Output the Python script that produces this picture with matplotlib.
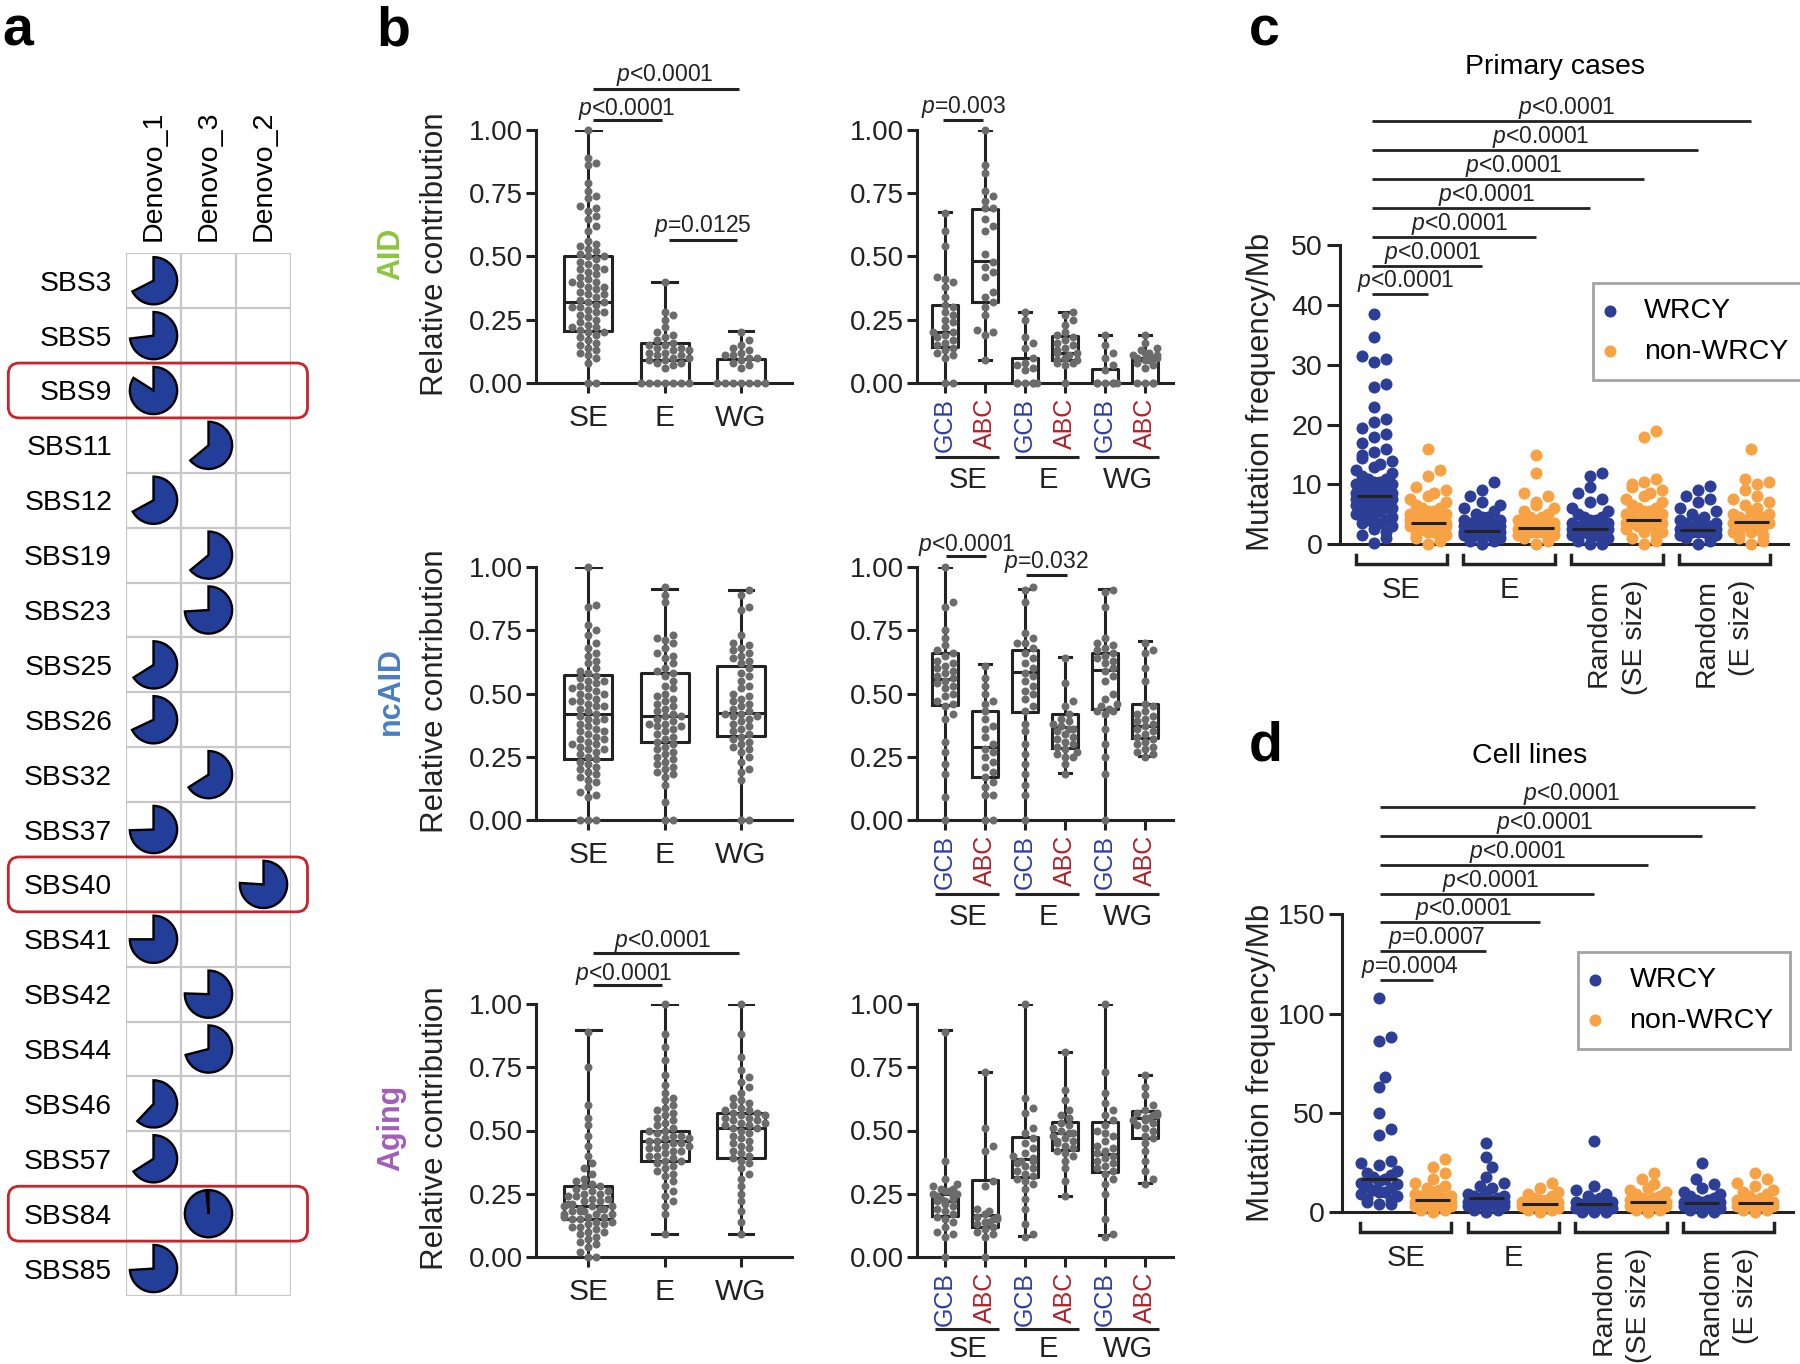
import numpy as np
import matplotlib
matplotlib.use("Agg")
import matplotlib.pyplot as plt
from matplotlib.patches import Wedge, FancyBboxPatch

plt.rcParams["font.family"] = "Liberation Sans"
plt.rcParams["mathtext.fontset"] = "custom"
plt.rcParams["mathtext.it"] = "Liberation Sans:italic"
plt.rcParams["mathtext.rm"] = "Liberation Sans"

# ---------------- panel a data
sigs = ["SBS3", "SBS5", "SBS9", "SBS11", "SBS12", "SBS19", "SBS23", "SBS25", "SBS26", "SBS32",
        "SBS37", "SBS40", "SBS41", "SBS42", "SBS44", "SBS46", "SBS57", "SBS84", "SBS85"]
denovo = ["Denovo_1", "Denovo_3", "Denovo_2"]
sig_col = [0, 0, 0, 1, 0, 1, 1, 0, 0, 1, 0, 2, 0, 1, 1, 0, 0, 1, 0]
sig_frac = [0.675, 0.73, 0.84, 0.64, 0.67, 0.64, 0.74, 0.66, 0.68, 0.66,
            0.745, 0.76, 0.75, 0.755, 0.71, 0.62, 0.66, 0.985, 0.74]
highlight = ["SBS9", "SBS40", "SBS84"]

# ---------------- panel b data (relative contribution)
regions = ["SE", "E", "WG"]
subtypes = ["GCB", "ABC"]

aid_se = [1.0, 0.89, 0.87, 0.86, 0.79, 0.76, 0.74, 0.73, 0.70, 0.69, 0.68, 0.66, 0.65, 0.62, 0.60,
          0.56, 0.55, 0.54, 0.53, 0.52, 0.51, 0.50, 0.50, 0.49, 0.48, 0.47, 0.46, 0.45, 0.45, 0.44,
          0.43, 0.42, 0.41, 0.40, 0.40, 0.39, 0.38, 0.38, 0.37, 0.36, 0.35, 0.35, 0.34, 0.33, 0.32,
          0.32, 0.31, 0.30, 0.30, 0.29, 0.28, 0.28, 0.27, 0.26, 0.25, 0.24, 0.23, 0.22, 0.22, 0.21,
          0.20, 0.20, 0.19, 0.18, 0.17, 0.16, 0.15, 0.14, 0.13, 0.12, 0.11, 0.10, 0.08, 0.0, 0.0]
aid_e = [0.40, 0.28, 0.27, 0.25, 0.22, 0.20, 0.19, 0.18, 0.17, 0.16, 0.15, 0.15, 0.14, 0.14, 0.13,
         0.13, 0.12, 0.12, 0.11, 0.11, 0.10, 0.10, 0.09, 0.09, 0.08, 0.08, 0.07, 0.06,
         0.0, 0.0, 0.0, 0.0, 0.0, 0.0, 0.0]
aid_wg = [0.20, 0.17, 0.15, 0.14, 0.13, 0.12, 0.11, 0.11, 0.10, 0.10, 0.09, 0.08, 0.07, 0.06,
          0.0, 0.0, 0.0, 0.0, 0.0, 0.0, 0.0]
aid_box = [(0.0, 0.204, 0.32, 0.503, 1.0), (0.0, 0.0, 0.089, 0.16, 0.40), (0.0, 0.0, 0.0, 0.096, 0.204)]

aid_gcb_se = [0.67, 0.60, 0.54, 0.42, 0.41, 0.40, 0.38, 0.34, 0.31, 0.30, 0.28, 0.27, 0.25, 0.24,
              0.22, 0.20, 0.20, 0.19, 0.18, 0.17, 0.16, 0.15, 0.14, 0.13, 0.12, 0.11, 0.10, 0.0, 0.0]
aid_abc_se = [1.0, 0.86, 0.83, 0.76, 0.74, 0.72, 0.69, 0.69, 0.65, 0.62, 0.60, 0.51, 0.48, 0.46,
              0.44, 0.42, 0.36, 0.34, 0.32, 0.30, 0.27, 0.21, 0.20, 0.19, 0.09]
aid_gcb_e = [0.28, 0.25, 0.18, 0.16, 0.14, 0.10, 0.08, 0.07, 0.06, 0.05, 0.0, 0.0, 0.0, 0.0, 0.0, 0.0]
aid_abc_e = [0.28, 0.27, 0.25, 0.23, 0.20, 0.19, 0.18, 0.17, 0.16, 0.15, 0.14, 0.13, 0.12, 0.12,
             0.11, 0.10, 0.10, 0.09, 0.09, 0.08, 0.08, 0.07, 0.0]
aid_gcb_wg = [0.19, 0.15, 0.12, 0.10, 0.07, 0.05, 0.0, 0.0, 0.0, 0.0, 0.0, 0.0]
aid_abc_wg = [0.19, 0.16, 0.14, 0.13, 0.12, 0.12, 0.11, 0.11, 0.10, 0.10, 0.10, 0.09, 0.09, 0.08,
              0.07, 0.06, 0.0, 0.0, 0.0, 0.0]
aid_sub_box = [(0.0, 0.142, 0.20, 0.307, 0.674), (0.092, 0.32, 0.484, 0.688, 1.0),
               (0.0, 0.0, 0.0, 0.099, 0.28), (0.0, 0.092, 0.118, 0.184, 0.28),
               (0.0, 0.0, 0.0, 0.055, 0.19), (0.0, 0.0, 0.09, 0.10, 0.19)]

ncaid_se = [1.0, 0.85, 0.84, 0.77, 0.75, 0.73, 0.70, 0.68, 0.66, 0.65, 0.63, 0.62, 0.60, 0.59, 0.58,
            0.57, 0.56, 0.55, 0.55, 0.54, 0.53, 0.52, 0.52, 0.51, 0.50, 0.50, 0.49, 0.48, 0.47, 0.47,
            0.46, 0.45, 0.45, 0.44, 0.43, 0.42, 0.41, 0.40, 0.40, 0.39, 0.38, 0.37, 0.36, 0.35, 0.35,
            0.34, 0.33, 0.32, 0.32, 0.31, 0.30, 0.30, 0.29, 0.28, 0.28, 0.27, 0.26, 0.25, 0.24, 0.23,
            0.22, 0.21, 0.20, 0.19, 0.18, 0.17, 0.16, 0.15, 0.13, 0.11, 0.10, 0.09, 0.0, 0.0, 0.0]
ncaid_e = [0.92, 0.89, 0.86, 0.73, 0.72, 0.71, 0.70, 0.68, 0.66, 0.65, 0.64, 0.62, 0.60, 0.59, 0.58,
           0.57, 0.55, 0.53, 0.52, 0.50, 0.49, 0.48, 0.47, 0.46, 0.45, 0.44, 0.43, 0.42, 0.41, 0.41,
           0.40, 0.39, 0.38, 0.38, 0.37, 0.37, 0.36, 0.35, 0.34, 0.33, 0.32, 0.31, 0.30, 0.29, 0.28,
           0.27, 0.26, 0.25, 0.24, 0.23, 0.22, 0.21, 0.20, 0.19, 0.18, 0.17, 0.14, 0.07, 0.0, 0.0]
ncaid_wg = [0.91, 0.89, 0.84, 0.83, 0.73, 0.70, 0.69, 0.68, 0.67, 0.66, 0.65, 0.64, 0.63, 0.62, 0.60,
            0.58, 0.57, 0.55, 0.53, 0.52, 0.50, 0.49, 0.48, 0.47, 0.46, 0.45, 0.44, 0.43, 0.42, 0.42,
            0.41, 0.41, 0.40, 0.39, 0.38, 0.37, 0.36, 0.35, 0.34, 0.33, 0.32, 0.31, 0.30, 0.29, 0.28,
            0.27, 0.25, 0.23, 0.20, 0.19, 0.16, 0.0, 0.0]
ncaid_box = [(0.0, 0.242, 0.417, 0.575, 1.0), (0.0, 0.308, 0.413, 0.582, 0.914), (0.0, 0.332, 0.424, 0.61, 0.91)]

ncaid_gcb_se = [1.0, 0.86, 0.84, 0.75, 0.72, 0.69, 0.67, 0.66, 0.65, 0.63, 0.62, 0.61, 0.60, 0.59,
                0.58, 0.57, 0.56, 0.55, 0.54, 0.53, 0.52, 0.50, 0.49, 0.47, 0.46, 0.45, 0.42, 0.40,
                0.31, 0.27, 0.22, 0.18, 0.09, 0.0]
ncaid_abc_se = [0.61, 0.56, 0.53, 0.50, 0.47, 0.46, 0.43, 0.40, 0.37, 0.36, 0.33, 0.30, 0.28, 0.27,
                0.25, 0.23, 0.21, 0.19, 0.17, 0.15, 0.13, 0.10, 0.10, 0.0, 0.0]
ncaid_gcb_e = [0.92, 0.91, 0.86, 0.74, 0.72, 0.70, 0.70, 0.68, 0.66, 0.64, 0.62, 0.60, 0.58, 0.57,
               0.55, 0.53, 0.51, 0.50, 0.48, 0.45, 0.43, 0.38, 0.35, 0.30, 0.26, 0.22, 0.18, 0.14, 0.10, 0.0]
ncaid_abc_e = [0.64, 0.54, 0.47, 0.45, 0.42, 0.40, 0.39, 0.38, 0.37, 0.36, 0.36, 0.35, 0.34, 0.33,
               0.32, 0.31, 0.30, 0.29, 0.28, 0.27, 0.26, 0.25, 0.25, 0.22, 0.18]
ncaid_gcb_wg = [0.91, 0.90, 0.84, 0.72, 0.70, 0.69, 0.68, 0.67, 0.66, 0.65, 0.64, 0.63, 0.62, 0.60,
                0.59, 0.57, 0.55, 0.50, 0.48, 0.46, 0.45, 0.44, 0.43, 0.43, 0.42, 0.36, 0.30, 0.25, 0.18, 0.0]
ncaid_abc_wg = [0.70, 0.67, 0.66, 0.60, 0.55, 0.46, 0.45, 0.43, 0.42, 0.41, 0.40, 0.39, 0.38, 0.37,
                0.36, 0.35, 0.34, 0.33, 0.32, 0.31, 0.30, 0.29, 0.28, 0.27, 0.26, 0.25]
ncaid_sub_box = [(0.0, 0.454, 0.559, 0.66, 1.0), (0.0, 0.168, 0.287, 0.432, 0.616),
                 (0.0, 0.425, 0.586, 0.672, 0.914), (0.186, 0.283, 0.366, 0.418, 0.646),
                 (0.0, 0.438, 0.593, 0.662, 0.914), (0.254, 0.326, 0.372, 0.458, 0.708)]

aging_se = [0.89, 0.75, 0.60, 0.55, 0.52, 0.48, 0.44, 0.40, 0.37, 0.35, 0.33, 0.31, 0.30, 0.29, 0.28,
            0.28, 0.27, 0.26, 0.26, 0.25, 0.25, 0.24, 0.24, 0.23, 0.23, 0.22, 0.22, 0.21, 0.21, 0.20,
            0.20, 0.20, 0.19, 0.19, 0.19, 0.18, 0.18, 0.18, 0.17, 0.17, 0.17, 0.16, 0.16, 0.16, 0.15,
            0.15, 0.14, 0.14, 0.13, 0.13, 0.12, 0.12, 0.11, 0.10, 0.10, 0.09, 0.08, 0.07, 0.06, 0.05,
            0.04, 0.02, 0.0, 0.0]
aging_e = [1.0, 0.88, 0.83, 0.78, 0.72, 0.68, 0.65, 0.63, 0.62, 0.60, 0.59, 0.58, 0.57, 0.56, 0.55,
           0.54, 0.53, 0.52, 0.51, 0.50, 0.50, 0.49, 0.48, 0.48, 0.47, 0.47, 0.46, 0.46, 0.45, 0.45,
           0.44, 0.44, 0.43, 0.43, 0.42, 0.42, 0.41, 0.40, 0.40, 0.39, 0.38, 0.38, 0.37, 0.36, 0.35,
           0.34, 0.33, 0.32, 0.30, 0.28, 0.26, 0.24, 0.22, 0.20, 0.17, 0.09]
aging_wg = [1.0, 0.88, 0.79, 0.74, 0.71, 0.69, 0.67, 0.65, 0.63, 0.62, 0.61, 0.60, 0.59, 0.58, 0.58,
            0.57, 0.57, 0.56, 0.56, 0.55, 0.55, 0.54, 0.54, 0.53, 0.53, 0.52, 0.52, 0.51, 0.51, 0.50,
            0.49, 0.48, 0.47, 0.46, 0.45, 0.44, 0.43, 0.42, 0.41, 0.40, 0.39, 0.38, 0.37, 0.35, 0.33,
            0.31, 0.28, 0.25, 0.22, 0.18, 0.14, 0.09]
aging_box = [(0.0, 0.15, 0.20, 0.28, 0.896), (0.09, 0.38, 0.46, 0.50, 1.0), (0.09, 0.39, 0.51, 0.57, 1.0)]

aging_gcb_se = [0.89, 0.38, 0.31, 0.29, 0.28, 0.27, 0.27, 0.26, 0.26, 0.25, 0.25, 0.24, 0.24, 0.23,
                0.23, 0.22, 0.22, 0.21, 0.20, 0.19, 0.18, 0.17, 0.16, 0.15, 0.14, 0.12, 0.10, 0.09, 0.08, 0.0]
aging_abc_se = [0.73, 0.51, 0.44, 0.42, 0.30, 0.28, 0.19, 0.18, 0.17, 0.17, 0.16, 0.16, 0.15, 0.15,
                0.14, 0.14, 0.13, 0.12, 0.11, 0.10, 0.09, 0.08, 0.0]
aging_gcb_e = [1.0, 0.63, 0.59, 0.57, 0.51, 0.49, 0.47, 0.45, 0.43, 0.41, 0.40, 0.39, 0.38, 0.38,
               0.37, 0.36, 0.35, 0.34, 0.33, 0.32, 0.31, 0.30, 0.29, 0.27, 0.23, 0.19, 0.13, 0.09, 0.08]
aging_abc_e = [0.81, 0.66, 0.62, 0.58, 0.56, 0.55, 0.53, 0.52, 0.51, 0.50, 0.49, 0.49, 0.48, 0.47,
               0.46, 0.46, 0.45, 0.44, 0.43, 0.42, 0.41, 0.40, 0.38, 0.35, 0.30, 0.24]
aging_gcb_wg = [1.0, 0.73, 0.65, 0.61, 0.58, 0.56, 0.54, 0.52, 0.50, 0.49, 0.48, 0.46, 0.44, 0.43,
                0.42, 0.41, 0.40, 0.39, 0.38, 0.37, 0.36, 0.35, 0.34, 0.33, 0.31, 0.29, 0.25, 0.15, 0.09, 0.08]
aging_abc_wg = [0.72, 0.67, 0.64, 0.60, 0.58, 0.57, 0.57, 0.56, 0.56, 0.55, 0.55, 0.54, 0.54, 0.53,
                0.52, 0.51, 0.50, 0.48, 0.47, 0.45, 0.42, 0.38, 0.34, 0.31, 0.29]
aging_sub_box = [(0.0, 0.163, 0.22, 0.25, 0.897), (0.0, 0.118, 0.167, 0.303, 0.73),
                 (0.084, 0.316, 0.387, 0.476, 1.0), (0.24, 0.424, 0.49, 0.532, 0.812),
                 (0.088, 0.334, 0.408, 0.534, 1.0), (0.292, 0.47, 0.55, 0.579, 0.72)]

# ---------------- panel c / d data (mutation frequency / Mb)
c_se_w = [38.5, 34.7, 31.5, 31.0, 30.5, 26.8, 26.3, 23.0, 21.0, 20.5, 19.5, 18.5, 18.0, 17.0, 16.0,
          15.5, 15.0, 14.5, 14.0, 13.5, 13.0, 12.5, 12.0, 11.5, 11.0, 11.0, 10.5, 10.5, 10.0, 10.0,
          9.5, 9.5, 9.0, 9.0, 9.0, 8.5, 8.5, 8.5, 8.0, 8.0, 8.0, 7.5, 7.5, 7.5, 7.0, 7.0, 7.0, 6.5,
          6.5, 6.5, 6.0, 6.0, 6.0, 5.5, 5.5, 5.0, 5.0, 4.5, 4.5, 4.0, 4.0, 3.5, 3.5, 3.5, 3.0, 2.5,
          2.0, 1.5, 1.0, 0.3]
c_se_n = [16.0, 12.5, 11.5, 9.5, 9.0, 8.5, 8.0, 7.5, 7.0, 6.5, 6.0, 6.0, 5.5, 5.5, 5.0, 5.0, 4.5,
          4.5, 4.5, 4.0, 4.0, 4.0, 3.5, 3.5, 3.5, 3.5, 3.0, 3.0, 3.0, 3.0, 2.5, 2.5, 2.5, 2.0, 2.0,
          2.0, 1.5, 1.5, 1.0, 1.0, 0.5, 0.0]
c_e_w = [10.5, 9.0, 8.0, 7.0, 6.5, 6.0, 5.5, 5.0, 4.5, 4.5, 4.0, 4.0, 3.5, 3.5, 3.5, 3.0, 3.0, 3.0,
         3.0, 2.5, 2.5, 2.5, 2.5, 2.0, 2.0, 2.0, 2.0, 2.0, 1.5, 1.5, 1.5, 1.5, 1.0, 1.0, 1.0, 0.5, 0.5, 0.0]
c_e_n = [15.0, 12.0, 8.5, 8.0, 7.0, 6.5, 6.0, 5.5, 5.0, 4.5, 4.5, 4.0, 4.0, 3.5, 3.5, 3.5, 3.0, 3.0,
         3.0, 2.5, 2.5, 2.5, 2.5, 2.0, 2.0, 2.0, 1.5, 1.5, 1.5, 1.0, 1.0, 0.5, 0.0]
c_rse_w = [12.0, 11.5, 9.5, 8.5, 7.5, 7.0, 6.0, 5.5, 5.0, 4.5, 4.5, 4.0, 4.0, 3.5, 3.5, 3.0, 3.0,
           3.0, 2.5, 2.5, 2.5, 2.5, 2.0, 2.0, 2.0, 1.5, 1.5, 1.5, 1.0, 1.0, 0.5, 0.5, 0.0, 0.0]
c_rse_n = [19.0, 18.0, 11.0, 10.5, 10.0, 9.5, 9.0, 8.5, 8.0, 7.5, 7.0, 6.5, 6.0, 6.0, 5.5, 5.5, 5.0,
           5.0, 4.5, 4.5, 4.0, 4.0, 4.0, 3.5, 3.5, 3.5, 3.0, 3.0, 3.0, 2.5, 2.5, 2.0, 2.0, 1.5, 1.0, 0.5, 0.0]
c_re_w = [9.8, 9.0, 8.0, 7.5, 7.0, 6.0, 5.5, 5.0, 4.5, 4.0, 4.0, 3.5, 3.5, 3.0, 3.0, 3.0, 2.5, 2.5,
          2.5, 2.5, 2.0, 2.0, 2.0, 2.0, 1.5, 1.5, 1.5, 1.0, 1.0, 0.5, 0.0]
c_re_n = [16.0, 11.0, 10.5, 10.0, 9.0, 8.0, 7.5, 7.0, 6.5, 6.0, 5.5, 5.0, 5.0, 4.5, 4.5, 4.0, 4.0,
          3.5, 3.5, 3.5, 3.0, 3.0, 3.0, 2.5, 2.5, 2.0, 2.0, 1.5, 1.5, 1.0, 0.5, 0.0]
c_medians = [8.0, 3.5, 2.3, 2.8, 2.5, 4.0, 2.4, 3.7]
c_pvals = ["$p$<0.0001"] * 7

d_se_w = [108, 88, 86, 68, 63, 50, 42, 39, 26, 25, 24, 21, 20, 19, 18, 17, 16, 15, 14, 13, 12, 11,
          10, 10, 9, 8, 7, 6, 5, 4, 4]
d_se_n = [27, 23, 20, 17, 15, 13, 12, 11, 10, 9, 8, 8, 7, 7, 6, 6, 5, 5, 5, 4, 4, 4, 3, 3, 3, 2, 2,
          1, 1, 0]
d_e_w = [35, 28, 23, 18, 15, 13, 12, 10, 9, 8, 8, 7, 7, 6, 6, 5, 5, 5, 4, 4, 4, 3, 3, 3, 2, 2, 1, 1, 0]
d_e_n = [15, 12, 10, 9, 8, 7, 6, 6, 5, 5, 4, 4, 4, 3, 3, 3, 2, 2, 2, 1, 1, 0]
d_rse_w = [36, 13, 11, 9, 8, 7, 6, 5, 5, 4, 4, 3, 3, 3, 2, 2, 1, 1, 0, 0, 0]
d_rse_n = [20, 17, 14, 12, 11, 10, 9, 8, 7, 7, 6, 6, 5, 5, 5, 4, 4, 4, 3, 3, 2, 2, 1, 1, 0]
d_re_w = [25, 17, 14, 12, 10, 9, 8, 7, 6, 6, 5, 5, 5, 4, 4, 4, 3, 3, 3, 2, 2, 1, 1, 0, 0]
d_re_n = [20, 17, 15, 13, 11, 10, 9, 8, 7, 6, 6, 5, 5, 5, 4, 4, 4, 3, 3, 2, 2, 1, 1, 0]
d_medians = [17, 6, 7, 4, 4, 5, 4.5, 4.5]
d_pvals = ["$p$=0.0004", "$p$=0.0007"] + ["$p$<0.0001"] * 5

mut_groups = ["SE", "E"]
rand_groups = [("Random", "(SE size)"), ("Random", "(E size)")]

# ---------------- style
W, H = 1800, 1364
INK = "#222222"
DOT = "#6B6B6B"
BLUE = "#2D3E97"
ORANGE = "#F7A245"
GCB_C = "#2B3EA5"
ABC_C = "#B3202A"

fig = plt.figure(figsize=(18, 13.64), dpi=100)


def add_ax(x0, y0, x1, y1):
    return fig.add_axes([x0 / W, 1 - y1 / H, (x1 - x0) / W, (y1 - y0) / H])


def style(ax, lw=2.2, tl=7.2, fs=20, pad=2):
    for s in ["top", "right"]:
        ax.spines[s].set_visible(False)
    for s in ["left", "bottom"]:
        ax.spines[s].set_linewidth(lw)
        ax.spines[s].set_color(INK)
    ax.tick_params(width=lw, length=tl, color=INK, labelsize=fs, pad=pad, labelcolor=INK)
    ax.patch.set_alpha(0)


def swarm(vals, dx, dy, maxw):
    vals = np.asarray(vals, float)
    steps = [0.0]
    k = 1
    while k * dx / 2 <= maxw + 1e-9:
        steps += [k * dx / 2, -k * dx / 2]
        k += 1
    px, py = [], []
    offs = np.zeros(len(vals))
    for n, i in enumerate(np.argsort(vals, kind="stable")):
        y = vals[i]
        choice = None
        ax_ = np.array(px)
        ay_ = np.array(py)
        for s in steps:
            if len(ax_) == 0 or np.all(((s - ax_) / dx) ** 2 + ((y - ay_) / dy) ** 2 >= 0.9):
                choice = s
                break
        if choice is None:
            choice = steps[n % len(steps)]
        offs[i] = choice
        px.append(choice)
        py.append(y)
    return offs


def pbar(ax, x1, x2, y, label, tx=None, off=7, lw=2.2):
    ax.plot([x1, x2], [y, y], color=INK, lw=lw, clip_on=False, solid_capstyle="butt")
    ax.annotate(label, xy=((x1 + x2) / 2 if tx is None else tx, y), xytext=(0, off),
                textcoords="offset pixels", ha="center", va="baseline", fontsize=16.5,
                color=INK, annotation_clip=False)


def box_panel(ax, groups, stats, px_x, px_y=253):
    stat_dicts = [dict(whislo=s[0], q1=s[1], med=s[2], q3=s[3], whishi=s[4], fliers=[]) for s in stats]
    lp = dict(color=INK, lw=2.2)
    ax.bxp(stat_dicts, positions=range(len(stats)), widths=0.63, capwidths=0.32,
           showfliers=False, manage_ticks=False, boxprops=lp, whiskerprops=lp,
           capprops=lp, medianprops=lp)
    for i, vals in enumerate(groups):
        offs = swarm(vals, 8 / px_x, 8 / px_y, 0.33)
        ax.scatter(i + offs, vals, s=33, color=DOT, linewidths=0, zorder=3, clip_on=False)
    ax.set_ylim(0, 1)
    ax.set_yticks([0, 0.25, 0.5, 0.75, 1.0], ["0.00", "0.25", "0.50", "0.75", "1.00"])
    style(ax)


# ---------------- panel a
axa = add_ax(126, 253.3, 291, 1296)
axa.set_xlim(0, 3)
axa.set_ylim(0, 19)
for s in axa.spines.values():
    s.set_visible(False)
for i in range(4):
    axa.axvline(i, color="#C8C8C8", lw=1.6, zorder=1)
for j in range(20):
    axa.axhline(j, color="#C8C8C8", lw=1.6, zorder=1)
n = len(sigs)
for r, (c, f) in enumerate(zip(sig_col, sig_frac)):
    axa.add_patch(Wedge((c + 0.5, n - 0.5 - r), 0.43, 90 - 360 * f, 90,
                        facecolor="#233E99", edgecolor="black", lw=1.7, zorder=3))
for name in highlight:
    r = sigs.index(name)
    axa.add_patch(FancyBboxPatch((-2.14, n - 1 - r), 5.44, 1.0,
                                 boxstyle="round,pad=0,rounding_size=0.2",
                                 facecolor="none", edgecolor="#C8242B", lw=2.0,
                                 clip_on=False, zorder=4))
axa.set_yticks([n - 0.5 - r for r in range(n)], sigs)
axa.set_xticks([0.5, 1.5, 2.5], denovo, rotation=90)
axa.xaxis.tick_top()
axa.tick_params(length=0, labelsize=20.3, pad=10)
axa.tick_params(axis="x", pad=8.5, labelsize=20.5)

# ---------------- panel b
rows = [
    ("AID", "#8CC63F", [aid_se, aid_e, aid_wg], aid_box,
     [aid_gcb_se, aid_abc_se, aid_gcb_e, aid_abc_e, aid_gcb_wg, aid_abc_wg], aid_sub_box),
    ("ncAID", "#4A7EC2", [ncaid_se, ncaid_e, ncaid_wg], ncaid_box,
     [ncaid_gcb_se, ncaid_abc_se, ncaid_gcb_e, ncaid_abc_e, ncaid_gcb_wg, ncaid_abc_wg], ncaid_sub_box),
    ("Aging", "#A35DB9", [aging_se, aging_e, aging_wg], aging_box,
     [aging_gcb_se, aging_abc_se, aging_gcb_e, aging_abc_e, aging_gcb_wg, aging_abc_wg], aging_sub_box),
]
tops = [130, 567, 1004]
left_axes, right_axes = [], []
for ri, ((name, col, grp, bstats, sgrp, sstats), top) in enumerate(zip(rows, tops)):
    axl = add_ax(535.7, top, 792, top + 253)
    axl.set_xlim(-0.69, 2.67)
    box_panel(axl, grp, bstats, 76.3)
    axl.set_xticks(range(3), regions)
    axl.tick_params(axis="x", labelsize=21.5, pad=8)
    left_axes.append(axl)

    axr = add_ax(917, top, 1173, top + 253)
    axr.set_xlim(-0.7, 5.7)
    box_panel(axr, sgrp, sstats, 40)
    axr.set_xticks(range(6), subtypes * 3, rotation=90)
    axr.tick_params(axis="x", labelsize=18, pad=3.5)
    for k, lab in enumerate(axr.get_xticklabels()):
        lab.set_color(GCB_C if k % 2 == 0 else ABC_C)
    tr = axr.get_xaxis_transform()
    lab_off = 92 if ri == 2 else 97
    line_off = 72 if ri == 2 else 74
    for g, reg in enumerate(regions):
        axr.plot([2 * g - 0.25, 2 * g + 1.35], [-line_off / 253] * 2, color=INK, lw=2.2,
                 transform=tr, clip_on=False, solid_capstyle="butt")
        axr.text(2 * g + 0.58, -lab_off / 253, reg, transform=tr, ha="center", va="center",
                 fontsize=21, color=INK)
    right_axes.append(axr)

    yc = top + 124
    fig.text(435 / W, 1 - yc / H, "Relative contribution", rotation=90, fontsize=22.5,
             ha="center", va="center", color=INK)
    fig.text(391 / W, 1 - yc / H, name, rotation=90, fontsize=22, fontweight="bold",
             ha="center", va="center", color=col)

pbar(left_axes[0], 0.06, 0.97, 1.04, "$p$<0.0001", tx=0.5, off=5)
pbar(left_axes[0], 0.06, 1.97, 1.162, "$p$<0.0001", tx=1.0, off=8)
pbar(left_axes[0], 1.06, 1.95, 0.565, "$p$=0.0125", tx=1.5, off=8)
pbar(right_axes[0], -0.05, 0.95, 1.04, "$p$=0.003", tx=0.45, off=7)
pbar(right_axes[1], 0.02, 1.02, 1.045, "$p$<0.0001", tx=0.54, off=5)
pbar(right_axes[1], 2.02, 3.04, 0.968, "$p$=0.032", tx=2.54, off=7)
pbar(left_axes[2], 0.06, 0.97, 1.077, "$p$<0.0001", tx=0.46, off=5)
pbar(left_axes[2], 0.06, 1.97, 1.2, "$p$<0.0001", tx=0.98, off=6)


# ---------------- panels c, d
def mut_panel(ax, groups, medians, ymax, step, px_y, pvals, p_y0, p_dy, p_x0, title, tpos, leg_xy, ylab_y):
    ax.set_xlim(ax.get_xlim())
    for i, vals in enumerate(groups):
        offs = swarm(vals, 12 / 53.9, 12 / px_y, 0.42)
        ax.scatter(i + offs, vals, s=75, color=BLUE if i % 2 == 0 else ORANGE, linewidths=0,
                   zorder=3, clip_on=False, label=["WRCY", "non-WRCY"][i % 2] if i < 2 else None)
        ax.hlines(medians[i], i - 0.33, i + 0.33, color=INK, lw=2.2, zorder=4)
    ax.set_ylim(0, ymax)
    ax.set_yticks(np.arange(0, ymax + 1, step))
    ax.set_xticks([])
    style(ax, tl=9.4, fs=20.5, pad=3)
    for k, lab in enumerate(pvals):
        pbar(ax, p_x0, k + 1, p_y0 + k * p_dy, lab, tx=(k + 1) / 2 + 0.08, off=7, lw=2.0)
    tr = ax.get_xaxis_transform()
    hpx = ax.get_position().height * H
    for g in range(4):
        x0, x1 = 2 * g - 0.35, 2 * g + 1.35
        yb, yt = -19.5 / hpx, -11 / hpx
        ax.plot([x0, x0, x1, x1], [yt, yb, yb, yt], color=INK, lw=2.5, transform=tr,
                clip_on=False, solid_joinstyle="miter")
    for g, name in enumerate(mut_groups):
        ax.annotate(name, xy=(2 * g + 0.5, 0), xycoords=("data", "axes fraction"),
                    xytext=(0, -46), textcoords="offset pixels", ha="center", va="center",
                    fontsize=21, color=INK, annotation_clip=False)
    for g, (l1, l2) in enumerate(rand_groups):
        for dxo, txt in [(-0.33, l1), (0.33, l2)]:
            ax.annotate(txt, xy=(2 * (g + 2) + 0.5 + dxo, 0), xycoords=("data", "axes fraction"),
                        xytext=(0, -35), textcoords="offset pixels", ha="center", va="top",
                        rotation=90, fontsize=20.5, color=INK, annotation_clip=False)
    fig.text(tpos[0] / W, 1 - tpos[1] / H, title, fontsize=20.5, ha="center", va="center", color="black")
    fig.text(1261 / W, 1 - ylab_y / H, "Mutation frequency/Mb", rotation=90, fontsize=22.5,
             ha="center", va="center", color=INK)
    leg = ax.legend(loc="upper left", bbox_to_anchor=(leg_xy[0] / W, 1 - leg_xy[1] / H),
                    bbox_transform=fig.transFigure, frameon=True, fancybox=False,
                    edgecolor="#8C8C8C", fontsize=20.5, handlelength=0.1, handletextpad=1.15,
                    borderpad=0.55, labelspacing=0.5, borderaxespad=0, scatterpoints=1)
    leg.get_frame().set_linewidth(2.0)


axc = add_ax(1340, 245.3, 1788, 544.3)
axc.set_xlim(-0.64, 7.68)
mut_panel(axc, [c_se_w, c_se_n, c_e_w, c_e_n, c_rse_w, c_rse_n, c_re_w, c_re_n], c_medians,
          50, 10, 5.98, c_pvals, 41.8, 4.82, -0.04, "Primary cases", (1555, 67), (1592.7, 282.7), 392)

axd = add_ax(1342.3, 914.3, 1793, 1212.3)
axd.set_xlim(-0.68, 7.7)
mut_panel(axd, [d_se_w, d_se_n, d_e_w, d_e_n, d_rse_w, d_rse_n, d_re_w, d_re_n], d_medians,
          150, 50, 1.987, d_pvals, 116.9, 14.52, 0.03, "Cell lines", (1530, 756), (1578.3, 951.7), 1063)

# ---------------- panel letters
for letter, x, y in [("a", 2, 46), ("b", 376, 46), ("c", 1249, 46), ("d", 1249, 761)]:
    fig.text(x / W, 1 - y / H, letter, fontsize=40, fontweight="bold", ha="left", va="baseline")

fig.savefig("out.png", dpi=100)
